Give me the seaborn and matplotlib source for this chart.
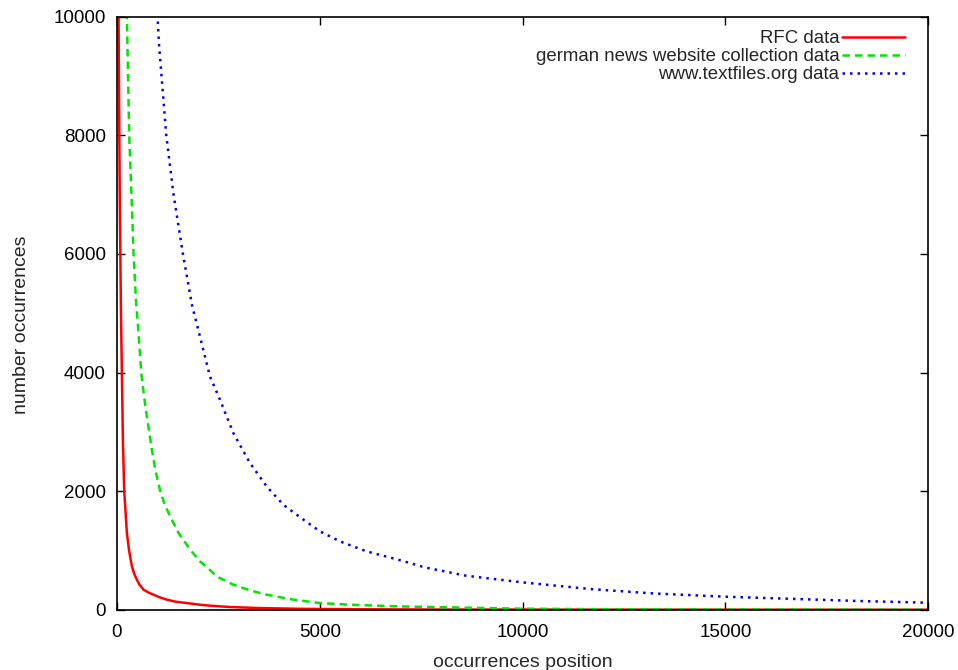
"""Rank / frequency curves for three text collections (gnuplot look)."""

import matplotlib
matplotlib.use("Agg")
import matplotlib.pyplot as plt
import pandas as pd
import seaborn as sns

# occurrences position vs number occurrences
rfc_x = [5, 41, 70, 99, 123, 150, 181, 247, 300, 370, 430, 493, 560, 658,
         780, 904, 1050, 1233, 1450, 1726, 2000, 2302, 2795, 3500, 4500, 6000,
         8000, 12000, 20000]
rfc_y = [25000, 10000, 7000, 5100, 4000, 2800, 2000, 1293, 1000, 731, 600,
         506, 420, 337, 290, 253, 210, 169, 135, 112, 88, 67, 45, 28, 15, 7,
         3, 1, 0]

news_x = [150, 247, 304, 360, 411, 469, 534, 600, 670, 740, 863, 950, 1069,
          1180, 1315, 1521, 1808, 2047, 2219, 2458, 2870, 3281, 3692, 4350,
          5007, 5747, 6939, 8608, 10000, 12000, 15000, 20000]
news_y = [15000, 10000, 8000, 7000, 6000, 5228, 4666, 4000, 3600, 3260, 2698,
          2350, 2000, 1770, 1573, 1293, 1012, 815, 720, 562, 422, 326, 253,
          169, 112, 84, 56, 34, 17, 8, 3, 0]

textfiles_x = [900, 1003, 1036, 1217, 1397, 1628, 1850, 2047, 2294, 2541,
               2870, 3281, 3692, 4103, 4514, 5007, 5500, 6158, 6939, 7586,
               8608, 10000, 11674, 13207, 15000, 16783, 18317, 20000]
textfiles_y = [11500, 10000, 9556, 8000, 7000, 6000, 5143, 4608, 3934, 3541,
               2979, 2473, 2079, 1770, 1560, 1320, 1152, 983, 843, 714, 573,
               461, 348, 275, 219, 180, 146, 118]

series = [
    ("RFC data", rfc_x, rfc_y, "#ff0000", "-"),
    ("german news website collection data", news_x, news_y, "#00e600", (0, (3, 2))),
    ("www.textfiles.org data", textfiles_x, textfiles_y, "#0000ff", (0, (1, 2))),
]

x_ticks = [0, 5000, 10000, 15000, 20000]
y_ticks = [0, 2000, 4000, 6000, 8000, 10000]

sns.set_style("ticks")
plt.rcParams["font.family"] = ["Liberation Sans", "DejaVu Sans"]
FS = 13.5

fig, ax = plt.subplots(figsize=(9.58, 6.70), dpi=100)
fig.subplots_adjust(left=0.122, right=0.969, top=0.975, bottom=0.090)

for label, xs, ys, color, ls in series:
    df = pd.DataFrame({"x": xs, "y": ys})
    sns.lineplot(data=df, x="x", y="y", ax=ax, color=color, linestyle=ls,
                 linewidth=1.8, label=label, sort=False, estimator=None)

ax.set_xlim(0, 20000)
ax.set_ylim(0, 10000)
ax.set_xticks(x_ticks)
ax.set_yticks(y_ticks)
ax.set_xlabel("occurrences position", fontsize=14, labelpad=10)
ax.set_ylabel("number occurrences", fontsize=14)
ax.yaxis.set_label_coords(-0.107, 0.48)

# gnuplot style: inward ticks mirrored on all sides
ax.tick_params(direction="in", length=6, width=1, top=True, right=True,
               labelsize=FS, pad=8, colors="black")
ax.tick_params(axis="x", pad=10)
for spine in ax.spines.values():
    spine.set_visible(True)
    spine.set_linewidth(1.2)
    spine.set_color("black")

# markerfirst=False puts the sample on the right and right-aligns the labels
ax.legend(loc="upper right", bbox_to_anchor=(0.981, 0.99), borderaxespad=0,
          markerfirst=False, frameon=False, handlelength=3.4,
          handletextpad=0.15, labelspacing=0.05, fontsize=13.4)

fig.savefig("out.png", dpi=100)
